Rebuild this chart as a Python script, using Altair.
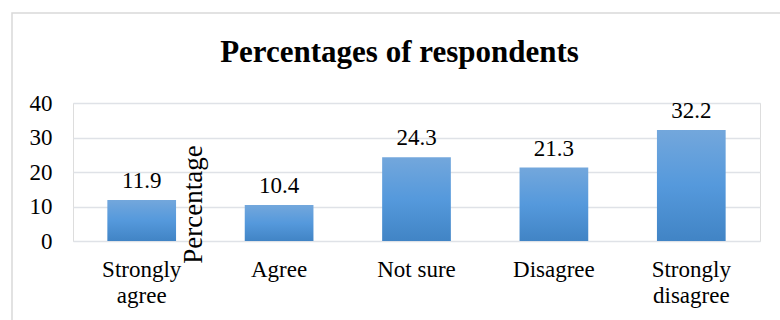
import altair as alt
import pandas as pd

categories = ["Strongly|agree", "Agree", "Not sure", "Disagree", "Strongly|disagree"]
percentages = [11.9, 10.4, 24.3, 21.3, 32.2]

df = pd.DataFrame({"category": categories, "pct": percentages})

FONT = "Liberation Serif"
GRID = "#dfe2e7"
SIZE = 23

bar_fill = alt.LinearGradient(
    gradient="linear",
    x1=0, y1=0, x2=0, y2=1,
    stops=[
        alt.GradientStop(color="#73a7dc", offset=0),
        alt.GradientStop(color="#5599dc", offset=0.5),
        alt.GradientStop(color="#4184c5", offset=1),
    ],
)

x_enc = alt.X(
    "category:N",
    sort=categories,
    scale=alt.Scale(paddingInner=0.5, paddingOuter=0.25),
    axis=alt.Axis(
        title=None,
        labelAngle=0,
        labelExpr="split(datum.label, '|')",
        labelFont=FONT,
        labelFontSize=SIZE,
        labelColor="#000000",
        labelPadding=17,
        labelLineHeight=26,
        labelOverlap=False,
        ticks=False,
        domain=False,
    ),
)

y_enc = alt.Y(
    "pct:Q",
    scale=alt.Scale(domain=[0, 40], nice=False),
    axis=alt.Axis(
        title="Percentage",
        titleFont=FONT,
        titleFontSize=27,
        titleFontWeight="normal",
        titleColor="#000000",
        titleX=120,
        titleY=101,
        titleAlign="center",
        titleBaseline="middle",
        titleAngle=270,
        values=[0, 10, 20, 30, 40],
        labelFont=FONT,
        labelFontSize=SIZE,
        labelColor="#000000",
        labelPadding=21,
        labelOverlap=False,
        ticks=False,
        domain=False,
        grid=True,
        gridColor=GRID,
        gridWidth=1.5,
    ),
)

bars = alt.Chart(df).mark_bar(color=bar_fill).encode(x=x_enc, y=y_enc)

labels = alt.Chart(df).mark_text(
    baseline="alphabetic", dy=-12, font=FONT, fontSize=SIZE, color="#000000"
).encode(
    x=x_enc,
    y=y_enc,
    text=alt.Text("pct:Q", format=".1f"),
)

# light frame around the whole figure
frame = alt.Chart(pd.DataFrame({"k": [0]})).mark_rect(
    fill=None, stroke="#d9d9d9", strokeWidth=1.5
).encode(
    x=alt.value(-61), x2=alt.value(730),
    y=alt.value(-90), y2=alt.value(240),
)

# the frame's top edge sits above the title, so the title is pulled back
# down inside it with a negative offset
chart = alt.layer(frame, bars, labels).properties(
    width=687,
    height=138,
    title=alt.TitleParams(
        "Percentages of respondents",
        font=FONT,
        fontSize=31,
        fontWeight="bold",
        color="#000000",
        anchor="middle",
        frame="group",
        baseline="alphabetic",
        dx=-17,
        offset=-81,
    ),
    autosize=alt.AutoSizeParams(type="none"),
    padding={"left": 73, "top": 103, "right": 20, "bottom": 79},
).configure_view(stroke=None).configure(background="#ffffff")

chart.save("out.html", embed_options={"renderer": "svg", "actions": False})
